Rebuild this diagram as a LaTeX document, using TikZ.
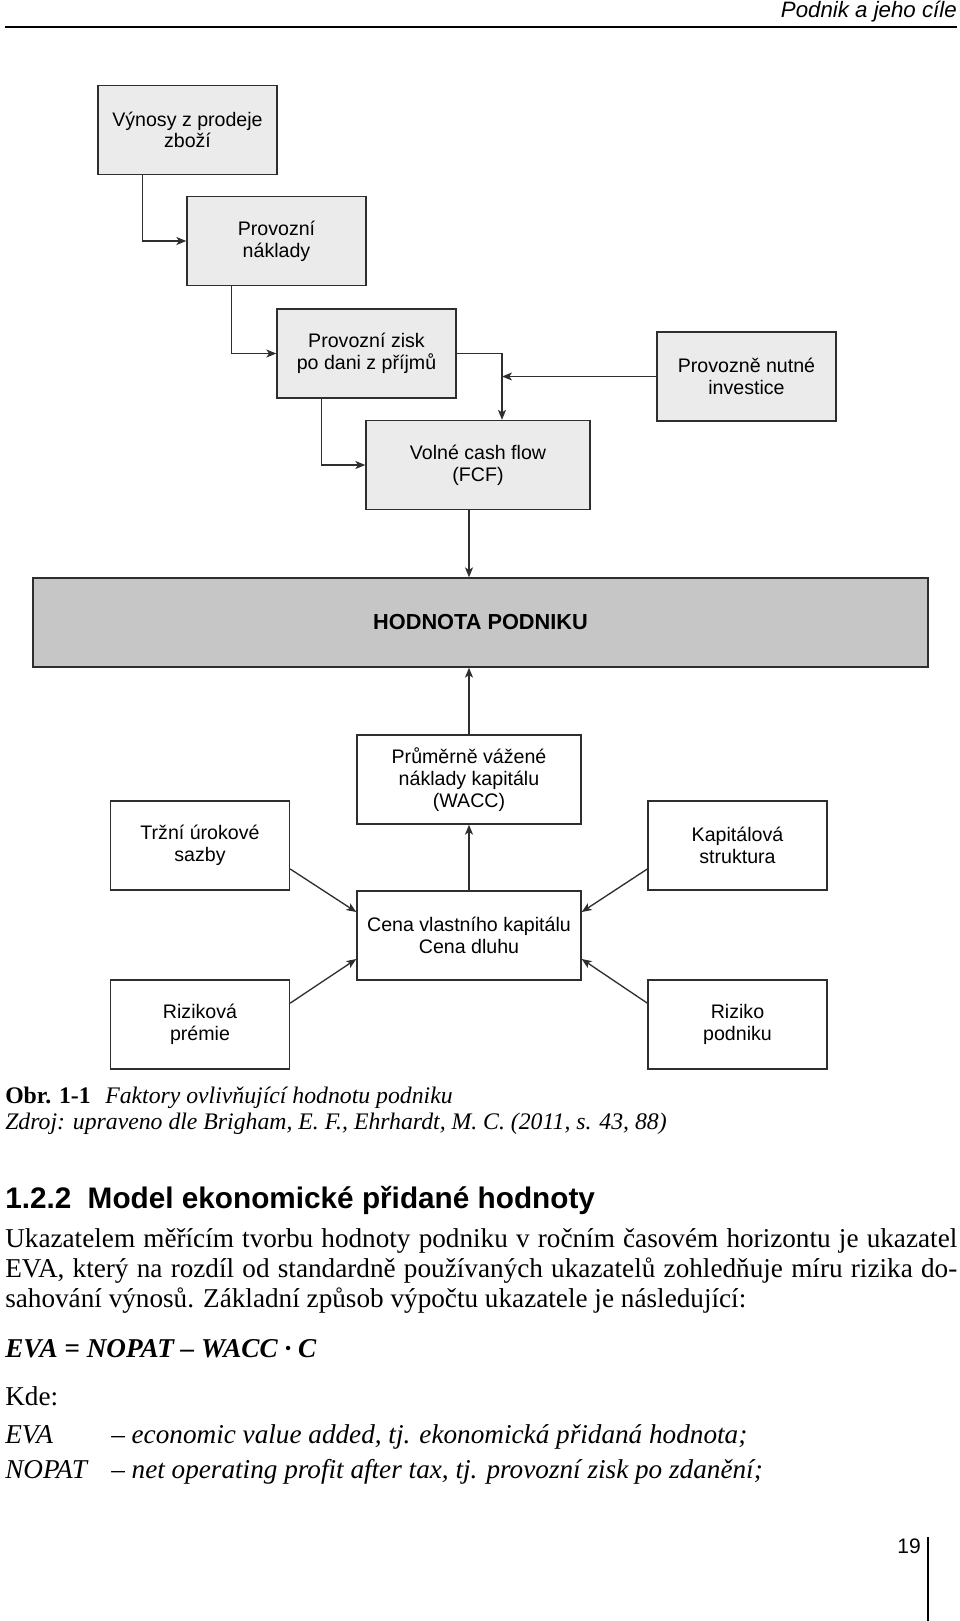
\documentclass[tikz,border=0pt]{standalone}
\usepackage{fontspec}
\setmainfont{Liberation Serif}
\setsansfont{Liberation Sans}
\usetikzlibrary{arrows.meta,calc}
\definecolor{boxgray}{HTML}{EBEBEB}
\definecolor{dgray}{HTML}{C6C6C6}
\definecolor{ln}{HTML}{2E2E2E}
\begin{document}
\begin{tikzpicture}[x=0.75pt,y=-0.75pt,
  box/.style={draw=ln, line width=1pt, fill=boxgray, minimum width=134.25pt, minimum height=66.75pt,
    align=center, inner sep=0pt, font=\sffamily\fontsize{14.7pt}{16.3pt}\selectfont},
  wbox/.style={box, minimum width=168pt},
  arr/.style={draw=ln, line width=1pt, -{Stealth[length=7.5pt,width=6pt,inset=2pt]}},
  txt/.style={anchor=base west, inner sep=0pt, font=\fontsize{20.4pt}{24pt}\selectfont},
  itxt/.style={txt, font=\fontsize{20.4pt}{24pt}\selectfont\itshape},
]
\useasboundingbox (0,0) rectangle (960,1621);
% header
\node[anchor=base east, inner sep=0pt, font=\sffamily\itshape\fontsize{16.7pt}{19pt}\selectfont] (hdr) at (957,17) {Podnik a jeho cíle};
\draw[line width=1.6pt] (5,27) -- (957,27);
% boxes
\node[box] (vyn) at (187.5,130) {Výnosy z prodeje\\zboží};
\node[box] (nak) at (276.5,241) {Provozní\\náklady};
\node[box] (zisk) at (366.5,353.5) {Provozní zisk\\po dani z příjmů};
\node[box] (inv) at (746.5,376.5) {Provozně nutné\\investice};
\node[wbox] (fcf) at (478,465) {Volné cash flow\\(FCF)};
\node[box, fill=dgray, minimum width=671.25pt, font=\sffamily\bfseries\fontsize{16.3pt}{18pt}\selectfont] (hod) at (480.5,622.5) {HODNOTA PODNIKU};
\node[wbox, fill=white] (wacc) at (469,779.5) {Průměrně vážené\\náklady kapitálu\\(WACC)};
\node[box, fill=white] (trz) at (200,845.5) {Tržní úrokové\\sazby};
\node[box, fill=white] (kap) at (737.5,845.5) {Kapitálová\\struktura};
\node[wbox, fill=white] (cena) at (469,935.5) {Cena vlastního kapitálu\\Cena dluhu};
\node[box, fill=white] (rp) at (200,1024.5) {Riziková\\prémie};
\node[box, fill=white] (rpod) at (737.5,1024.5) {Riziko\\podniku};
% connectors
\coordinate (j) at ([xshift=18pt]fcf.north);
\draw[arr] ($(vyn.south west)!0.25!(vyn.south east)$) |- (nak.west);
\draw[arr] ($(nak.south west)!0.25!(nak.south east)$) |- (zisk.west);
\draw[arr] ($(zisk.south west)!0.25!(zisk.south east)$) |- (fcf.west);
\draw[arr] (zisk.east) -| (j);
\draw[arr] (inv.west) -- (inv.west -| j);
\draw[arr] (fcf.south -| wacc.north) -- (hod.north -| wacc.north);
\draw[arr] (wacc.north) -- (wacc.north |- hod.south);
\draw[arr] (cena.north) -- (wacc.south);
\draw[arr] ([yshift=-17.6pt]trz.east) -- ([yshift=17.6pt]cena.west);
\draw[arr] ([yshift=-17.6pt]kap.west) -- ([yshift=17.6pt]cena.east);
\draw[arr] ([yshift=16pt]rp.east) -- ([yshift=-17.6pt]cena.west);
\draw[arr] ([yshift=16pt]rpod.west) -- ([yshift=-17.6pt]cena.east);
% caption
\node[txt, font=\fontsize{17.8pt}{20pt}\selectfont] (cap1) at (5,1103) {\makebox[75pt][l]{\textbf{Obr. 1-1}}\textit{Faktory ovlivňující hodnotu podniku}};
\node[txt, font=\fontsize{17.8pt}{20pt}\selectfont\itshape] (cap2) at (5,1129) {Zdroj: upraveno dle Brigham, E. F., Ehrhardt, M. C. (2011, s. 43, 88)};
% heading
\node[txt, font=\sffamily\bfseries\fontsize{22.3pt}{25pt}\selectfont] (head) at (5,1208) {1.2.2\hspace{0.55em}Model ekonomické přidané hodnoty};
% body
\node[txt] (b1) at (5,1247) {\makebox[714pt][s]{Ukazatelem měřícím tvorbu hodnoty podniku v ročním časovém horizontu je ukazatel}};
\node[txt] (b2) at (5,1277) {\makebox[714pt][s]{EVA, který na rozdíl od standardně používaných ukazatelů zohledňuje míru rizika do-}};
\node[txt] (b3) at (5,1307) {sahování výnosů. Základní způsob výpočtu ukazatele je následující:};
\node[txt, font=\fontsize{20.4pt}{24pt}\selectfont\bfseries\itshape] (eq) at (5,1357) {EVA = NOPAT – WACC · C};
\node[txt] (kde) at (5,1405) {Kde:};
\node[itxt] (d1a) at (5,1443) {EVA};
\node[itxt] (d1b) at (111,1443) {– economic value added, tj. ekonomická přidaná hodnota;};
\node[itxt] (d2a) at (5,1478) {NOPAT};
\node[itxt] (d2b) at (111,1478) {– net operating profit after tax, tj. provozní zisk po zdanění;};
% page number
\node[anchor=base east, inner sep=0pt, font=\sffamily\fontsize{15.75pt}{18pt}\selectfont] (pg) at (921,1553) {19};
\draw[line width=2.2pt] (928,1537) -- (928,1621);
\end{tikzpicture}
\end{document}
